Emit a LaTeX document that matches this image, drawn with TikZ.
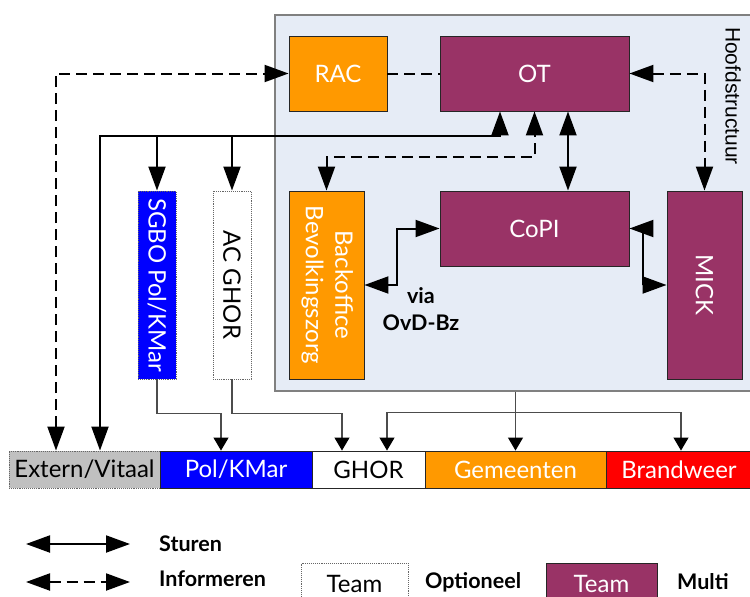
\documentclass[tikz,border=0pt]{standalone}
\usepackage{fontspec}
\setmainfont{Lato}
\newfontfamily\arialf{Liberation Sans}
\usetikzlibrary{arrows.meta,calc}
\definecolor{purp}{RGB}{153,51,102}
\definecolor{orng}{RGB}{255,153,0}
\definecolor{blu}{RGB}{0,0,255}
\definecolor{rd}{RGB}{255,0,0}
\definecolor{gry}{RGB}{192,192,192}
\definecolor{cont}{RGB}{230,236,246}
\definecolor{contb}{RGB}{128,128,128}
\begin{document}
\begin{tikzpicture}[x=1pt,y=-1pt,
  box/.style={rectangle, draw=black!85, line width=0.9pt, inner sep=0pt, font=\fontsize{24}{28}\selectfont},
  purpbox/.style={box, fill=purp, text=white},
  orbox/.style={box, fill=orng, text=white},
  dotbox/.style={box, draw=black!60, densely dotted},
  st/.style={line width=2pt, >={Triangle[length=24pt,width=17pt]}},
  inf/.style={st, dash pattern=on 11pt off 6pt},
  thn/.style={line width=1.2pt, draw=black!70, -{Triangle[length=13pt,width=15pt,color=black]}},
  lbl/.style={font=\bfseries\fontsize{21.5}{27}\selectfont, inner sep=0pt}
]
\useasboundingbox (0,0) rectangle (750,597);
\clip (0,0) rectangle (750,597);

% container
\node[draw=contb, line width=1.5pt, fill=cont, minimum width=490pt, minimum height=376pt,
      anchor=north west, inner sep=0pt] (hoofd) at (274,14) {};
\node[rotate=-90, font=\arialf\fontsize{21}{24}\selectfont, inner sep=0pt] (hs) at (733,96) {Hoofdstructuur};

% main nodes
\node[orbox, minimum width=98pt, minimum height=75pt] (RAC) at (338,73.5) {RAC};
\node[purpbox, minimum width=189pt, minimum height=75pt] (OT) at (534.5,73.5) {OT};
\node[purpbox, minimum width=189pt, minimum height=75pt] (CoPI) at (534.5,228.5) {CoPI};
\node[purpbox, minimum width=75pt, minimum height=188pt] (MICK) at (704.5,285) {\rotatebox{-90}{MICK}};
\node[orbox, minimum width=75pt, minimum height=188pt] (BO) at (326.5,285)
  {\rotatebox{-90}{\renewcommand\arraystretch{1.05}\begin{tabular}{@{}c@{}}Backoffice\\Bevolkingszorg\end{tabular}}};
\node[dotbox, fill=blu, text=white, minimum width=38pt, minimum height=188pt] (SGBO) at (157,285) {\rotatebox{-90}{SGBO Pol/KMar}};
\node[dotbox, fill=white, minimum width=38pt, minimum height=188pt] (ACG) at (232,285) {\rotatebox{-90}{AC GHOR}};

\node[lbl, align=center] (via) at (421,309) {via\\OvD-Bz};

% bottom bar
\node[dotbox, fill=gry, minimum width=151pt, minimum height=37pt] (Ext) at (84.5,469.5) {Extern/Vitaal};
\node[box, fill=blu, text=white, minimum width=152pt, minimum height=37pt] (Pol) at (236,469.5) {Pol/KMar};
\node[box, fill=white, minimum width=113pt, minimum height=37pt] (GHOR) at (368.5,469.5) {GHOR};
\node[box, fill=orng, text=white, minimum width=181pt, minimum height=37pt] (Gem) at (515.5,469.5) {Gemeenten};
\node[box, fill=rd, text=white, minimum width=146pt, minimum height=37pt] (Brw) at (679,469.5) {Brandweer};

% connectors: informeren (dashed)
\draw[inf] (RAC) -- (OT);
\draw[inf,<->] ([xshift=-28.5pt]Ext.north) |- (RAC.west);
\draw[inf,<->] (OT.east) -| (MICK.north);
\draw[inf,<->] (BO.north) |- ([yshift=-46pt]OT.south) -- (OT.south);

% connectors: sturen (solid)
\coordinate (sb) at (100,136);
\coordinate (se) at (500,136);
\draw[st,<->] ([xshift=15.5pt]Ext.north) -- (sb) -- (se) -- ([xshift=-34.5pt]OT.south);
\draw[st,->] (SGBO.north |- sb) -- (SGBO.north);
\draw[st,->] (ACG.north |- sb) -- (ACG.north);
\draw[st,<->] ([xshift=33.5pt]OT.south) -- ([xshift=33.5pt]CoPI.north);
\draw[st,<->] (BO.east) -- ++(33,0) |- (CoPI.west);
\draw[st,<->] (CoPI.east) -- ++(14,0) |- (MICK.west);

% thin connectors to bottom bar
\draw[thn] (SGBO.south) -- ++(0,34) -| ([xshift=-15pt]Pol.north);
\draw[thn] (ACG.south) -- ++(0,34) -| ([xshift=-26.5pt]GHOR.north);
\draw[thn] (Gem.north |- hoofd.south) -- (Gem.north);
\draw[thn, {Triangle[length=13pt,width=15pt,color=black]}-{Triangle[length=13pt,width=15pt,color=black]}]
  ([xshift=18.5pt]GHOR.north) |- ([yshift=38pt]Gem.north) -| ([xshift=2pt]Brw.north);

% legend
\coordinate (l1a) at (26,544);
\coordinate (l1b) at (130,544);
\coordinate (l2a) at (26,582);
\coordinate (l2b) at (130,582);
\draw[st,<->] (l1a) -- (l1b);
\draw[inf,<->] (l2a) -- (l2b);
\node[lbl, anchor=west] (stu) at (159,544) {Sturen};
\node[lbl, anchor=west] (infm) at (159,579) {Informeren};
\node[dotbox, fill=white, minimum width=107pt, minimum height=42pt] (t1) at (354.5,584) {Team};
\node[lbl, anchor=west] (opt) at (425,582) {Optioneel};
\node[purpbox, minimum width=111pt, minimum height=42pt] (t2) at (601.5,584) {Team};
\node[lbl, anchor=west] (mul) at (677,582) {Multi};
\end{tikzpicture}
\end{document}
